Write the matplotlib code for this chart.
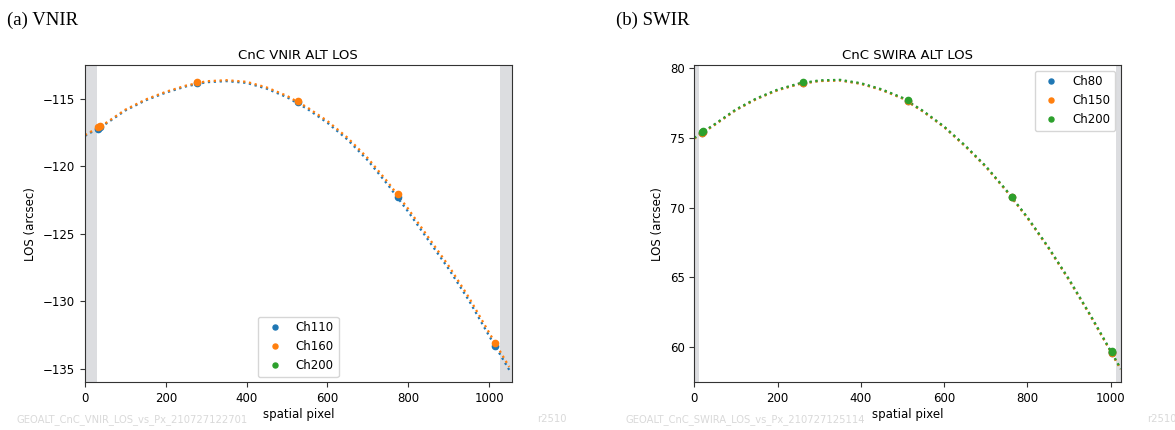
import matplotlib
matplotlib.use("Agg")
import matplotlib.pyplot as plt

# VNIR: sampled fit curve (spatial pixel -> LOS arcsec)
vnir_px = [0, 50, 100, 150, 200, 250, 300, 350, 400, 450, 500, 550,
           600, 650, 700, 750, 800, 850, 900, 950, 1000, 1050]
vnir_ch160 = [-117.70, -116.84, -115.82, -115.07, -114.50, -114.04, -113.72, -113.64,
              -113.76, -114.18, -114.80, -115.65, -116.66, -117.90, -119.41, -121.20,
              -123.16, -125.27, -127.37, -129.70, -132.30, -134.85]
vnir_ch110 = [-117.76, -116.90, -115.88, -115.13, -114.56, -114.10, -113.79, -113.71,
              -113.84, -114.27, -114.90, -115.76, -116.79, -118.04, -119.57, -121.39,
              -123.37, -125.48, -127.59, -129.92, -132.54, -135.07]
vnir_ch200 = []

# VNIR measured points
vnir_pt_x = [33, 37, 276, 526, 775, 1015]
vnir_pt_ch110 = [-117.22, -117.14, -113.88, -115.28, -122.25, -133.28]
vnir_pt_ch160 = [-117.12, -117.05, -113.80, -115.20, -122.05, -133.06]

# SWIR: sampled fit curve
swir_px = [0, 50, 100, 150, 200, 250, 300, 350, 400, 450, 500, 550,
           600, 650, 700, 750, 800, 850, 900, 950, 1000, 1024]
swir_ch200 = [75.00, 76.00, 77.04, 77.84, 78.46, 78.89, 79.12, 79.16, 78.92, 78.48,
              77.87, 76.92, 75.81, 74.46, 72.97, 71.22, 69.30, 67.17, 64.85, 62.35,
              59.72, 58.45]
swir_ch150 = [74.95, 75.95, 76.99, 77.79, 78.41, 78.84, 79.07, 79.11, 78.87, 78.43,
              77.82, 76.87, 75.76, 74.41, 72.92, 71.17, 69.25, 67.12, 64.80, 62.30,
              59.67, 58.40]
swir_ch80 = [74.97, 75.97, 77.01, 77.81, 78.43, 78.86, 79.09, 79.13, 78.89, 78.45,
             77.84, 76.89, 75.78, 74.43, 72.94, 71.19, 69.27, 67.14, 64.82, 62.32,
             59.69, 58.42]

swir_pt_x = [18, 22, 262, 512, 762, 1002, 1004]
swir_pt_ch200 = [75.40, 75.48, 78.98, 77.69, 70.79, 59.62, 59.70]
swir_pt_ch150 = [75.35, 75.43, 78.93, 77.64, 70.74, 59.57, 59.65]
swir_pt_ch80 = [75.37, 75.45, 78.95, 77.66, 70.76, 59.59, 59.67]

blue, orange, green = '#1f77b4', '#ff7f0e', '#2ca02c'
span_col = '#dcdde0'
foot_col = '#d9d9d9'

plt.rcParams['font.family'] = ['DejaVu Sans']
fig = plt.figure(figsize=(11.75, 4.3), dpi=100)

ax1 = fig.add_axes([0.07234, 0.1109, 0.3631, 0.7372])
ax2 = fig.add_axes([0.5909, 0.1109, 0.3629, 0.7372])


def draw(ax, px, curves, pt_x, pts, labels, cols, xmax, spans, ylim, title, loc):
    for a, b in spans:
        ax.axvspan(a, b, color=span_col, lw=0, zorder=0)
    for c, col in zip(curves, cols):
        if len(c):
            ax.plot(px, c, ':', color=col, lw=1.6)
    for p, lab, col in zip(pts, labels, cols):
        xs = pt_x if len(p) else []
        ax.plot(xs, p, 'o', color=col, ms=4.5, label=lab, ls='none')
    ax.set_xlim(0, xmax)
    ax.set_ylim(*ylim)
    ax.set_title(title, fontsize=9.5, pad=4.5)
    ax.set_xlabel('spatial pixel', fontsize=8.5, labelpad=2)
    ax.set_ylabel('LOS (arcsec)', fontsize=8.5)
    ax.tick_params(labelsize=8.5, length=3.5, width=0.8, color='#333333')
    for s in ax.spines.values():
        s.set_color('#333333')
    ax.set_xticks([0, 200, 400, 600, 800, 1000])
    ax.legend(loc=loc, fontsize=8.5, markerscale=0.8, borderaxespad=0.45)


draw(ax1, vnir_px, [vnir_ch110, vnir_ch160, vnir_ch200], vnir_pt_x,
     [vnir_pt_ch110, vnir_pt_ch160, []], ['Ch110', 'Ch160', 'Ch200'],
     [blue, orange, green], 1056, [(0, 30), (1026, 1056)], (-135.99, -112.54),
     'CnC VNIR ALT LOS', 'lower center')
ax1.set_yticks([-135, -130, -125, -120, -115])

draw(ax2, swir_px, [swir_ch80, swir_ch150, swir_ch200], swir_pt_x,
     [swir_pt_ch80, swir_pt_ch150, swir_pt_ch200], ['Ch80', 'Ch150', 'Ch200'],
     [blue, orange, green], 1024, [(0, 12), (1012, 1024)], (57.47, 80.2),
     'CnC SWIRA ALT LOS', 'upper right')
ax2.set_yticks([60, 65, 70, 75, 80])

fig.text(0.006, 0.942, '(a) VNIR', family='Liberation Serif', fontsize=13.5)
fig.text(0.524, 0.942, '(b) SWIR', family='Liberation Serif', fontsize=13.5)

fig.text(0.014, 0.018, 'GEOALT_CnC_VNIR_LOS_vs_Px_210727122701', fontsize=7.2, color=foot_col)
fig.text(0.457, 0.018, 'r2510', fontsize=7.2, color=foot_col)
fig.text(0.532, 0.018, 'GEOALT_CnC_SWIRA_LOS_vs_Px_210727125114', fontsize=7.2, color=foot_col)
fig.text(0.976, 0.018, 'r2510', fontsize=7.2, color=foot_col)

fig.savefig('out.png', dpi=100)
